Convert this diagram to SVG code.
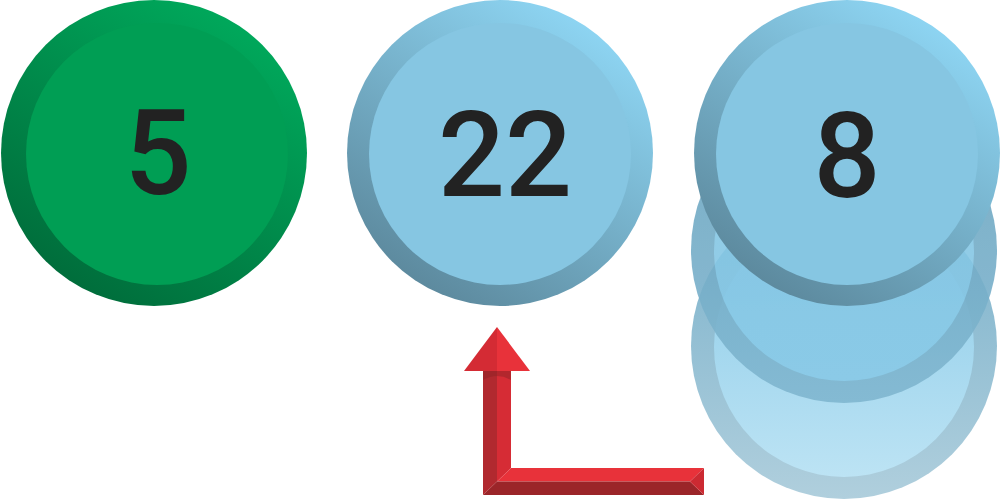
<svg xmlns="http://www.w3.org/2000/svg" width="1001" height="500" viewBox="0 0 1001 500">
<defs>
<linearGradient id="gOuter" x1="0.8" y1="0.05" x2="0.2" y2="0.95">
<stop offset="0" stop-color="#00aa5c"/>
<stop offset="1" stop-color="#006b3a"/>
</linearGradient>
<linearGradient id="bOuter" x1="0.8" y1="0.05" x2="0.2" y2="0.95">
<stop offset="0" stop-color="#8fd7f5"/>
<stop offset="1" stop-color="#5b879b"/>
</linearGradient>
<linearGradient id="ghostOuter" x1="0" y1="0" x2="0" y2="1">
<stop offset="0" stop-color="#6aa3bf"/>
<stop offset="1" stop-color="#80b7d0"/>
</linearGradient>
<linearGradient id="ghostInner" x1="0" y1="0" x2="0" y2="1">
<stop offset="0" stop-color="#84c5e2"/>
<stop offset="1" stop-color="#88c9e7"/>
</linearGradient>
<linearGradient id="ghostOuter2" x1="0" y1="0" x2="0" y2="1">
<stop offset="0" stop-color="#78b0ca"/>
<stop offset="1" stop-color="#b0cfdd"/>
</linearGradient>
<linearGradient id="ghostInner2" x1="0" y1="0" x2="0" y2="1">
<stop offset="0" stop-color="#8bcbe8"/>
<stop offset="1" stop-color="#bce3f4"/>
</linearGradient>
</defs>
<style>
.num{font-family:Roboto,"Liberation Sans",sans-serif;font-size:118px;font-weight:500;fill:#222222;text-anchor:middle}
.gInner{fill:#009e54}
.bInner{fill:#86c6e2}
</style>
<g id="ghost-2">
<circle cx="844" cy="346" r="153" fill="url(#ghostOuter2)"/>
<circle cx="844" cy="347" r="130" fill="url(#ghostInner2)"/>
</g>
<g id="ghost-1" opacity="0.9">
<circle cx="844" cy="250" r="153" fill="url(#ghostOuter)"/>
<circle cx="844" cy="251" r="130" fill="url(#ghostInner)"/>
</g>
<g id="node-5">
<circle cx="154" cy="153" r="153" fill="url(#gOuter)"/>
<circle cx="157" cy="154" r="131" class="gInner"/>
<text x="158" y="194" class="num">5</text>
</g>
<g id="node-22">
<circle cx="500" cy="153" r="153" fill="url(#bOuter)"/>
<circle cx="500" cy="154" r="131" class="bInner"/>
<text x="505" y="196" class="num">22</text>
</g>
<g id="node-8">
<circle cx="847" cy="153" r="153" fill="url(#bOuter)"/>
<circle cx="847" cy="154" r="131" class="bInner"/>
<text x="847" y="197" class="num">8</text>
</g>
<g id="connectors">
<polygon points="483,371 497,371 497,481.5 483,495" fill="#b1292f"/>
<polygon points="497,371 511,371 511,468 497,481.5" fill="#d62c35"/>
<polygon points="497,481.5 511,468 704,468 690,481.5" fill="#e8323a"/>
<polygon points="483,495 497,481.5 690,481.5 704,495" fill="#9b2529"/>
<polygon points="690,481.5 704,468 704,495" fill="#cc2a32"/>
<path d="M483,371 Q497,362 511,371 L511,380 Q497,372 483,380 Z" fill="#8f2226" opacity="0.5"/>
<polygon points="464,371 497,327 497,371" fill="#d42b34"/>
<polygon points="497,327 530,371 497,371" fill="#e8323a"/>
</g>
</svg>
